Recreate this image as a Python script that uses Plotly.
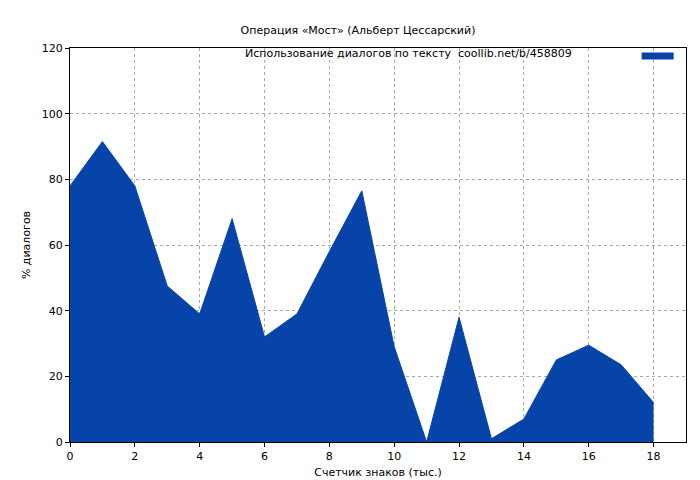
import plotly.graph_objects as go

x_vals = list(range(19))
y_vals = [78, 91.5, 78, 47.5, 39, 68, 32, 39, 58, 76.5, 29, 0, 38, 1, 7, 25, 29.5, 23.5, 12]
title = "Операция «Мост» (Альберт Цессарский)"
series_name = "Использование диалогов по тексту  coollib.net/b/458809"
color = "#0644AA"

fig = go.Figure()
fig.add_trace(go.Scatter(x=x_vals, y=y_vals, mode="lines", fill="tozeroy",
                         line=dict(color=color, width=1), fillcolor=color,
                         name=series_name, showlegend=False))
axis_common = dict(showline=True, linecolor="black", mirror=True, ticks="outside",
                   ticklen=4, tickcolor="black", showgrid=True, gridcolor="#aaaaaa",
                   griddash="dot", gridwidth=1, zeroline=False, automargin=False)
fig.update_layout(
    width=700, height=480, paper_bgcolor="white", plot_bgcolor="white",
    font=dict(family="DejaVu Sans", size=11, color="black"),
    title=dict(text=title, x=0.5, y=0.962, xanchor="center", font=dict(size=11)),
    margin=dict(l=62, r=22, t=40, b=46, autoexpand=False),
    xaxis=dict(range=[0, 19], tickvals=list(range(0, 19, 2)),
               title=dict(text="Счетчик знаков (тыс.)", standoff=6, font=dict(size=11)), **axis_common),
    yaxis=dict(range=[0, 120], tickvals=list(range(0, 121, 20)),
               title=dict(text="% диалогов", standoff=8, font=dict(size=11)), **axis_common),
    annotations=[dict(text=series_name, xref="paper", yref="paper", x=0.818, y=0.985,
                      xanchor="right", yanchor="middle", showarrow=False, font=dict(size=11))],
    shapes=[dict(type="line", xref="paper", yref="paper", x0=0.928, x1=0.98, y0=0.98, y1=0.98,
                 line=dict(color=color, width=7))],
)
fig.write_html("out.html")
